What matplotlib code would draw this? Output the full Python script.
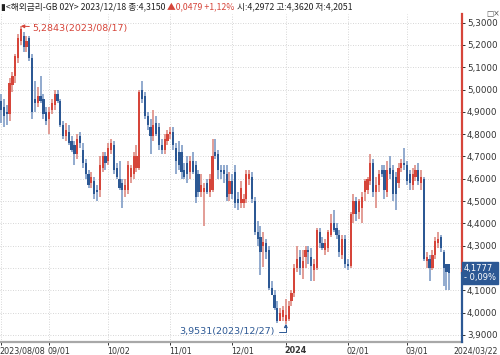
import numpy as np
import matplotlib
matplotlib.use('Agg')
import matplotlib.pyplot as plt
import matplotlib.transforms as mtrans

plt.rcParams['font.family'] = ['DejaVu Sans', 'Noto Sans CJK KR']

# daily candles, 2023/08/08 .. 2024/03/22 (GB 2Y yield)
opens = [4.95, 4.92, 4.90, 4.89, 5.02, 5.06, 5.14, 5.22, 5.24, 5.19,
         5.23, 5.14, 4.96, 4.94, 4.97, 4.96, 4.90, 4.87, 4.91, 4.93,
         4.98, 4.95, 4.84, 4.79, 4.81, 4.77, 4.75, 4.71, 4.79, 4.73,
         4.67, 4.62, 4.58, 4.59, 4.55, 4.55, 4.65, 4.70, 4.68, 4.73,
         4.75, 4.65, 4.60, 4.58, 4.55, 4.55, 4.61, 4.62, 4.65, 4.65,
         5.00, 4.97, 4.88, 4.83, 4.79, 4.85, 4.83, 4.75, 4.73, 4.77,
         4.80, 4.81, 4.74, 4.72, 4.72, 4.64, 4.67, 4.63, 4.68, 4.66,
         4.62, 4.54, 4.54, 4.58, 4.54, 4.55, 4.72, 4.71, 4.64, 4.64,
         4.62, 4.53, 4.59, 4.63, 4.51, 4.49, 4.49, 4.51, 4.60, 4.61,
         4.50, 4.36, 4.34, 4.2972, 4.31, 4.28, 4.11, 4.08, 4.02, 3.96,
         3.98, 3.96, 3.97, 4.05, 4.09, 4.20, 4.25, 4.20, 4.25, 4.28,
         4.25, 4.19, 4.20, 4.36, 4.31, 4.28, 4.29, 4.35, 4.40, 4.38,
         4.35, 4.26, 4.33, 4.22, 4.21, 4.44, 4.50, 4.45, 4.47, 4.54,
         4.55, 4.59, 4.67, 4.54, 4.57, 4.64, 4.64, 4.54, 4.65, 4.64,
         4.61, 4.58, 4.65, 4.67, 4.66, 4.62, 4.57, 4.61, 4.64, 4.58,
         4.60, 4.23, 4.24, 4.20, 4.26, 4.31, 4.34, 4.27, 4.22, 4.22]
highs = [4.98, 4.96, 4.93, 5.05, 5.08, 5.16, 5.25, 5.2843, 5.26, 5.24,
         5.24, 5.16, 5.04, 5.01, 5.06, 4.98, 4.92, 4.92, 4.96, 5.00,
         5.00, 4.96, 4.86, 4.85, 4.84, 4.79, 4.77, 4.80, 4.81, 4.76,
         4.69, 4.64, 4.63, 4.61, 4.57, 4.70, 4.72, 4.72, 4.76, 4.78,
         4.77, 4.67, 4.68, 4.60, 4.60, 4.68, 4.66, 4.72, 4.75, 5.00,
         5.04, 4.99, 4.90, 4.87, 4.91, 4.88, 4.85, 4.78, 4.80, 4.82,
         4.83, 4.83, 4.76, 4.77, 4.75, 4.67, 4.70, 4.70, 4.72, 4.68,
         4.64, 4.62, 4.58, 4.60, 4.62, 4.78, 4.78, 4.73, 4.66, 4.66,
         4.66, 4.63, 4.62, 4.66, 4.54, 4.59, 4.53, 4.64, 4.64, 4.63,
         4.52, 4.41, 4.39, 4.3620, 4.33, 4.30, 4.14, 4.10, 4.05, 4.02,
         4.03, 4.06, 4.05, 4.10, 4.22, 4.30, 4.28, 4.28, 4.30, 4.30,
         4.29, 4.24, 4.38, 4.38, 4.34, 4.33, 4.37, 4.44, 4.46, 4.40,
         4.37, 4.35, 4.35, 4.24, 4.45, 4.53, 4.52, 4.51, 4.54, 4.60,
         4.61, 4.71, 4.69, 4.61, 4.64, 4.66, 4.66, 4.68, 4.70, 4.66,
         4.63, 4.67, 4.69, 4.74, 4.68, 4.64, 4.65, 4.66, 4.67, 4.64,
         4.61, 4.27, 4.26, 4.28, 4.34, 4.36, 4.35, 4.28, 4.22, 4.22]
lows = [4.85, 4.83, 4.84, 4.86, 4.99, 5.03, 5.12, 5.20, 5.17, 5.17,
        5.13, 4.87, 4.90, 4.92, 4.94, 4.87, 4.84, 4.80, 4.89, 4.91,
        4.94, 4.83, 4.78, 4.77, 4.75, 4.72, 4.66, 4.69, 4.74, 4.65,
        4.60, 4.56, 4.56, 4.51, 4.50, 4.52, 4.63, 4.64, 4.66, 4.71,
        4.62, 4.60, 4.55, 4.47, 4.52, 4.53, 4.58, 4.60, 4.63, 4.64,
        4.94, 4.87, 4.82, 4.71, 4.77, 4.79, 4.73, 4.71, 4.71, 4.75,
        4.78, 4.73, 4.62, 4.64, 4.60, 4.60, 4.58, 4.60, 4.62, 4.49,
        4.52, 4.52, 4.39, 4.53, 4.52, 4.54, 4.69, 4.60, 4.60, 4.58,
        4.50, 4.50, 4.51, 4.47, 4.46, 4.47, 4.47, 4.49, 4.57, 4.49,
        4.35, 4.30, 4.17, 4.2051, 4.24, 4.10, 4.08, 4.01, 3.9531, 3.96,
        3.96, 3.95, 3.96, 4.03, 4.07, 4.18, 4.17, 4.15, 4.20, 4.22,
        4.14, 4.14, 4.19, 4.29, 4.28, 4.26, 4.27, 4.34, 4.36, 4.33,
        4.25, 4.24, 4.20, 4.19, 4.20, 4.40, 4.41, 4.42, 4.40, 4.50,
        4.53, 4.57, 4.52, 4.47, 4.54, 4.61, 4.51, 4.52, 4.60, 4.50,
        4.46, 4.56, 4.63, 4.64, 4.57, 4.55, 4.55, 4.59, 4.57, 4.55,
        4.23, 4.20, 4.14, 4.19, 4.24, 4.29, 4.27, 4.12, 4.10, 4.10]
closes = [4.91, 4.88, 4.89, 5.03, 5.06, 5.15, 5.23, 5.27, 5.19, 5.22,
          5.14, 4.90, 4.94, 4.97, 4.95, 4.89, 4.86, 4.90, 4.94, 4.98,
          4.95, 4.84, 4.79, 4.82, 4.76, 4.73, 4.71, 4.78, 4.76, 4.67,
          4.62, 4.57, 4.61, 4.53, 4.54, 4.66, 4.70, 4.67, 4.74, 4.76,
          4.64, 4.61, 4.56, 4.55, 4.57, 4.66, 4.65, 4.70, 4.70, 4.99,
          4.96, 4.88, 4.84, 4.79, 4.84, 4.80, 4.75, 4.73, 4.78, 4.80,
          4.81, 4.75, 4.68, 4.66, 4.63, 4.61, 4.62, 4.68, 4.63, 4.52,
          4.54, 4.57, 4.56, 4.54, 4.60, 4.70, 4.70, 4.64, 4.63, 4.62,
          4.52, 4.59, 4.53, 4.49, 4.49, 4.56, 4.51, 4.62, 4.62, 4.51,
          4.36, 4.33, 4.27, 4.3150, 4.27, 4.11, 4.08, 4.02, 3.96, 4.00,
          4.01, 3.99, 4.03, 4.09, 4.20, 4.24, 4.20, 4.23, 4.28, 4.27,
          4.21, 4.22, 4.37, 4.31, 4.29, 4.31, 4.36, 4.40, 4.37, 4.35,
          4.27, 4.33, 4.22, 4.21, 4.44, 4.50, 4.44, 4.50, 4.52, 4.59,
          4.60, 4.67, 4.54, 4.57, 4.62, 4.62, 4.55, 4.64, 4.62, 4.53,
          4.53, 4.65, 4.67, 4.66, 4.59, 4.58, 4.62, 4.64, 4.59, 4.61,
          4.24, 4.25, 4.20, 4.26, 4.32, 4.33, 4.29, 4.20, 4.18, 4.1777]

tick_idx = [0, 17, 38, 60, 82, 101, 123, 144]
tick_labels = ['2023/08/08', '09/01', '10/02', '11/01', '12/01', '2024', '02/01', '03/01']
end_label = '2024/03/22'
title_parts = ['\u25ae<해외금리-GB 02Y> 2023/12/18 종:4,3150 ',
               '\u25b20,0479 +1,12%',
               ' 시:4,2972 고:4,3620 저:4,2051']
hi_label = '5,2843(2023/08/17)'
lo_label = '3,9531(2023/12/27)'
last_change = '- 0,09%'

red = '#d6453a'
blue = '#2c5894'
red_w = '#de8c84'
blue_w = '#7f9cc6'

o = np.array(opens); h = np.array(highs); l = np.array(lows); c = np.array(closes)
x = np.arange(len(c))
up = c >= o

fig = plt.figure(figsize=(5, 3.55), dpi=100)
ax = fig.add_axes([0, 0.0366, 0.924, 0.924])

ax.vlines(x, l, h, colors=np.where(up, red_w, blue_w), lw=1.2, zorder=2)
body = np.maximum(np.abs(c - o), 0.006)
ax.bar(x, body, bottom=np.minimum(o, c), width=0.78,
       color=np.where(up, red, blue), lw=0, zorder=3)

ax.set_xlim(-0.4, 163.5)
ax.set_ylim(3.868, 5.339)

yt = np.round(np.arange(3.9, 5.301, 0.1), 1)
ax.yaxis.tick_right()
ax.set_yticks(yt)
ax.set_yticklabels([('%.4f' % v).replace('.', ',') for v in yt])
ax.tick_params(axis='y', length=2.5, width=0.7, pad=1, labelsize=6.3, colors='#333333')
# the last-price box covers the nearest label
for v, t in zip(yt, ax.get_yticklabels()):
    if abs(v - c[-1]) < 0.04:
        t.set_visible(False)
ax.set_xticks(tick_idx)
ax.set_xticklabels(tick_labels, ha='left')
ax.tick_params(axis='x', length=2.5, width=0.7, pad=0.5, labelsize=5.8, colors='#333333')
ax.get_xticklabels()[5].set_fontweight('bold')
offset = mtrans.ScaledTranslation(-1 / 72, 0, fig.dpi_scale_trans)
for t in ax.get_xticklabels():
    t.set_transform(t.get_transform() + offset)

ax.grid(True, color='#c9c9c9', lw=0.6, linestyle=(0, (1, 2)))
ax.set_axisbelow(True)
for s in ['left', 'top', 'right']:
    ax.spines[s].set_visible(False)
ax.spines['bottom'].set_color('#a8a8a8')
ax.spines['bottom'].set_linewidth(1.6)

# right axis line coloured at the last price
tr = mtrans.blended_transform_factory(ax.transAxes, ax.transData)
ylo, yhi = ax.get_ylim()
ax.plot([1, 1], [c[-1], yhi], color=red, lw=1.6, transform=tr, clip_on=False, zorder=5)
ax.plot([1, 1], [ylo, c[-1]], color=blue, lw=1.6, transform=tr, clip_on=False, zorder=5)
ax.text(1.004, c[-1], ('%.4f' % c[-1]).replace('.', ',') + '\n' + last_change,
        transform=tr, ha='left', va='center', fontsize=6, color='white',
        linespacing=0.95, zorder=6,
        bbox=dict(boxstyle='square,pad=0.25', fc=blue, ec=blue))

ax.annotate(end_label, xy=(1, 0), xycoords='axes fraction', xytext=(-6, -3),
            textcoords='offset points', ha='left', va='top', fontsize=5.6,
            color='#333333', annotation_clip=False)

# high / low marks
ih = int(np.argmax(h)); il = int(np.argmin(l))
ax.annotate(hi_label, xy=(ih, h[ih]), xytext=(ih + 4, h[ih] - 0.01),
            ha='left', va='center', fontsize=6.8, color=red,
            arrowprops=dict(arrowstyle='-|>,head_length=0.3,head_width=0.15',
                            color=red, lw=0.7, shrinkA=0, shrinkB=0))
ax.annotate(lo_label, xy=(il, l[il]), xytext=(il - 4, l[il] - 0.035),
            ha='right', va='center', fontsize=6.8, color=blue,
            arrowprops=dict(arrowstyle='-|>,head_length=0.3,head_width=0.15',
                            connectionstyle='angle,angleA=0,angleB=90,rad=0',
                            color=blue, lw=0.7, shrinkA=1, shrinkB=0))

# header line
fam = ['Noto Sans CJK KR', 'DejaVu Sans']
t0 = fig.text(0.002, 0.982, title_parts[0], ha='left', va='center', fontsize=6.3,
              color='#222222', family=fam)
t1 = fig.text(0, 0, title_parts[1], fontsize=6.3, color=red, ha='left', va='bottom', family=fam)
t2 = fig.text(0, 0, title_parts[2], fontsize=6.3, color='#222222', ha='left', va='bottom', family=fam)
fig.canvas.draw()
r = fig.canvas.get_renderer()
bb = t0.get_window_extent(r)
inv = fig.transFigure.inverted()
x1, y1 = inv.transform((bb.x1, bb.y0))
t1.set_position((x1, y1))
bb1 = t1.get_window_extent(r)
x2, _ = inv.transform((bb1.x1, bb1.y0))
t2.set_position((x2, y1))
fig.text(0.972, 0.962, '\u25a1\u00d7', fontsize=5.5, color='#555555', ha='left', va='center')

fig.savefig('out.png', dpi=100)
